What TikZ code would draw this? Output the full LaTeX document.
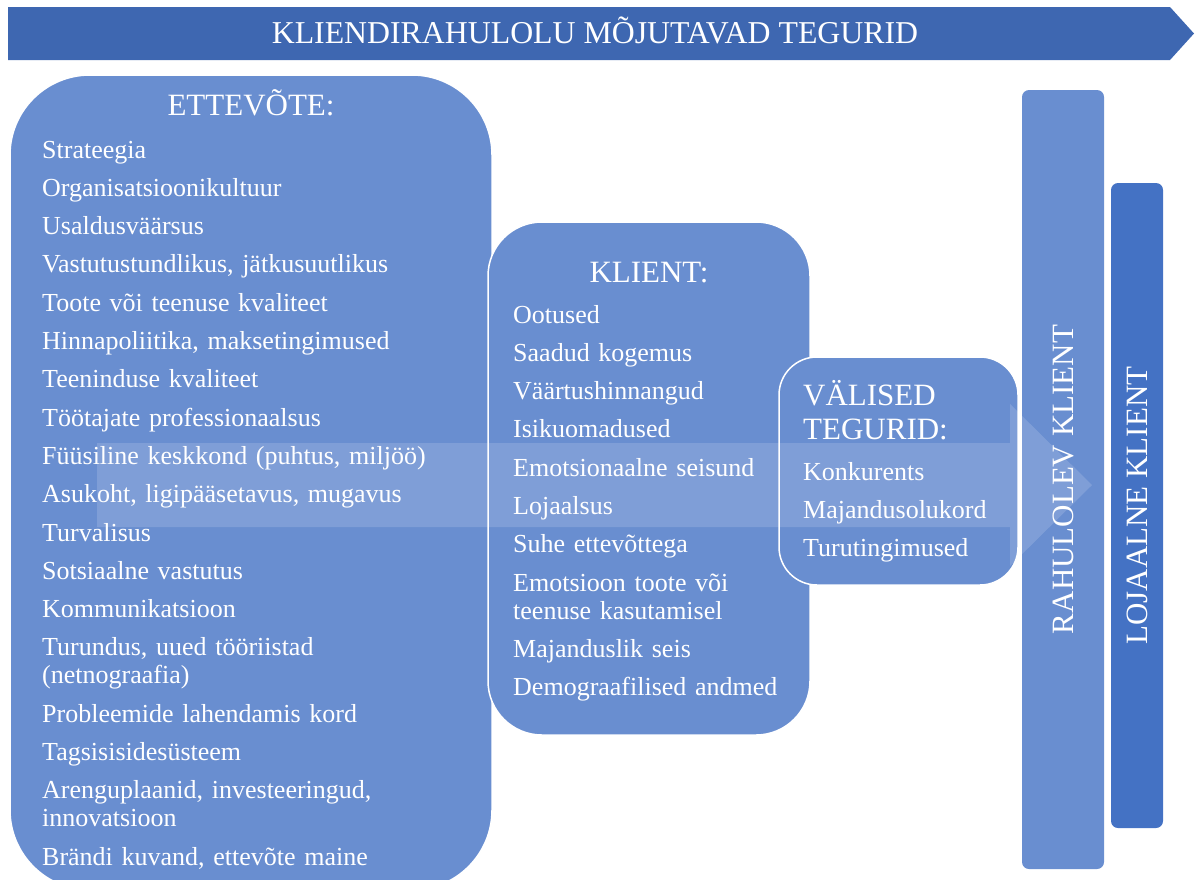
\documentclass[tikz,border=0pt]{standalone}
\usepackage{fontspec}
\setmainfont{Liberation Serif}
\usetikzlibrary{positioning}

\definecolor{boxblue}{RGB}{105,142,208}
\definecolor{bannerblue}{RGB}{62,103,177}
\definecolor{loyalblue}{RGB}{68,114,196}

\newcommand{\titlefont}{\fontsize{31}{34}\selectfont}
\newcommand{\itemfont}{\fontsize{26}{28}\selectfont}
\newcommand{\itemgap}{\\[10.3pt]}

\begin{document}
\begin{tikzpicture}[x=1pt,y=-1pt,
    box/.style={draw=white, line width=1.5pt, fill=boxblue, inner sep=0pt},
    bar/.style={fill=#1, rounded corners=7pt, inner sep=0pt},
    title/.style={text=white, font=\titlefont, inner sep=0pt},
    itemlist/.style={text=white, font=\itemfont, inner sep=0pt, anchor=base west, align=left}]
    \useasboundingbox (0,0) rectangle (1196,879);

    % --- banner ---
    \fill[bannerblue] (8,7) -- (1170,7) -- (1194,33.5) -- (1170,60) -- (8,60) -- cycle;
    \node[title, anchor=base, font=\fontsize{31.8}{34}\selectfont] (banner) at (595,43.5) {KLIENDIRAHULOLU MÕJUTAVAD TEGURID};

    % --- boxes ---
    \node[box, rounded corners=80pt, minimum width=482pt, minimum height=815pt] (ettevote) at (251,482.5) {};
    \node[box, rounded corners=54pt, minimum width=322pt, minimum height=513pt] (klient) at (649,478.5) {};
    \node[box, rounded corners=38pt, minimum width=239pt, minimum height=228pt] (valised) at (898.5,471) {};

    % --- customer bars ---
    \node[bar=boxblue, minimum width=82pt, minimum height=779pt] (rahulolev) at (1063,479.5) {};
    \node[bar=loyalblue, minimum width=52pt, minimum height=645pt] (lojaalne) at (1137,505.5) {};

    % --- big arrow behind the text ---
    \fill[white, opacity=0.15] (97,443) -- (1010,443) -- (1010,404) -- (1092,485)
        -- (1010,566) -- (1010,527) -- (97,527) -- cycle;

    % --- ETTEVÕTE ---
    \node[title, anchor=base] (ettevotetitle) at (251,115) {ETTEVÕTE:};
    \node[itemlist, text width=440pt] (ettevoteitems) at (42,158) {Strateegia\itemgap
        Organisatsioonikultuur\itemgap
        Usaldusväärsus\itemgap
        Vastutustundlikus, jätkusuutlikus\itemgap
        Toote või teenuse kvaliteet\itemgap
        Hinnapoliitika, maksetingimused\itemgap
        Teeninduse kvaliteet\itemgap
        Töötajate professionaalsus\itemgap
        Füüsiline keskkond (puhtus, miljöö)\itemgap
        Asukoht, ligipääsetavus, mugavus\itemgap
        Turvalisus\itemgap
        Sotsiaalne vastutus\itemgap
        Kommunikatsioon\itemgap
        Turundus, uued tööriistad\\ (netnograafia)\itemgap
        Probleemide lahendamis kord\itemgap
        Tagsisisidesüsteem\itemgap
        Arenguplaanid, investeeringud,\\ innovatsioon\itemgap
        Brändi kuvand, ettevõte maine};

    % --- KLIENT ---
    \node[title, anchor=base] (klienttitle) at (649,282) {KLIENT:};
    \node[itemlist, text width=290pt] (klientitems) at (513,323) {Ootused\itemgap
        Saadud kogemus\itemgap
        Väärtushinnangud\itemgap
        Isikuomadused\itemgap
        Emotsionaalne seisund\itemgap
        Lojaalsus\itemgap
        Suhe ettevõttega\itemgap
        Emotsioon toote või\\ teenuse kasutamisel\itemgap
        Majanduslik seis\itemgap
        Demograafilised andmed};

    % --- VÄLISED TEGURID ---
    \node[title, anchor=base west, text width=210pt, align=left] (valisedtitle) at (803,405) {VÄLISED\\ TEGURID:};
    \node[itemlist, text width=210pt] (valiseditems) at (803,480) {Konkurents\itemgap
        Majandusolukord\itemgap
        Turutingimused};

    % --- bar labels ---
    \node[title, rotate=90] (rahulolevtext) at (rahulolev.center) {RAHULOLEV KLIENT};
    \node[title, rotate=90] (lojaalnetext) at (lojaalne.center) {LOJAALNE KLIENT};
\end{tikzpicture}
\end{document}
